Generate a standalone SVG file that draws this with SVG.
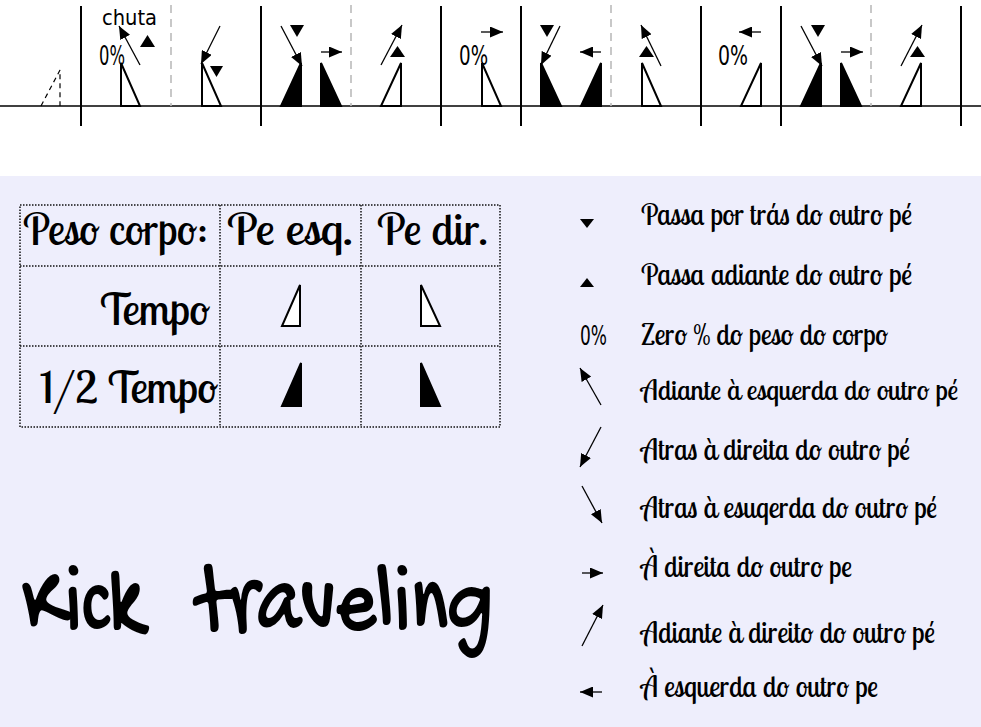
<svg xmlns="http://www.w3.org/2000/svg" width="981" height="727" viewBox="0 0 981 727">
<defs>
<style>
.bar{stroke:#000;stroke-width:2;fill:none}
.gap{stroke:#bbb;stroke-width:1.6;stroke-dasharray:8 6;fill:none}
.base{stroke:#000;stroke-width:1.6;fill:none}
.fw{fill:#fff;stroke:#000;stroke-width:2;stroke-linejoin:miter}
.fb{fill:#000;stroke:#000;stroke-width:2;stroke-linejoin:miter}
.tri{fill:#000;stroke:none}
.arr{stroke:#000;stroke-width:1.3;fill:none;marker-end:url(#ah)}
.dot{stroke:#111;stroke-width:1.5;stroke-dasharray:1.5 1.5;fill:none}
.ui{font-family:"Ubuntu Condensed","DejaVu Sans Condensed","DejaVu Sans",sans-serif;fill:#000}
.sc{font-family:"Lobster Two","Lobster","Liberation Serif",serif;fill:#000}
.hand{font-family:"Gochi Hand","Indie Flower","Kalam","DejaVu Sans",sans-serif;fill:#000}
</style>
<marker id="ah" markerUnits="userSpaceOnUse" markerWidth="13" markerHeight="11" viewBox="0 0 13 11" refX="13" refY="5.5" orient="auto">
<path d="M0,0 L13,5.5 L0,11 z" fill="#000"/>
</marker>
</defs>
<rect x="0" y="0" width="981" height="727" fill="#fff"/>
<rect x="0" y="176" width="981" height="551" fill="#eeeefc"/>

<g id="timeline">
<line class="base" x1="0" y1="106" x2="981" y2="106"/>
<g id="bars">
<line class="bar" x1="81" y1="6" x2="81" y2="126"/>
<line class="bar" x1="261" y1="6" x2="261" y2="126"/>
<line class="bar" x1="441" y1="6" x2="441" y2="126"/>
<line class="bar" x1="521" y1="6" x2="521" y2="126"/>
<line class="bar" x1="701" y1="6" x2="701" y2="126"/>
<line class="bar" x1="781" y1="6" x2="781" y2="126"/>
<line class="bar" x1="961" y1="6" x2="961" y2="126"/>
<line class="gap" x1="171" y1="5" x2="171" y2="106"/>
<line class="gap" x1="351" y1="5" x2="351" y2="106"/>
<line class="gap" x1="611" y1="5" x2="611" y2="106"/>
<line class="gap" x1="871" y1="5" x2="871" y2="106"/>
</g>
</g>

<g id="step0">
<polyline points="41,106 60,70 60,106" fill="none" stroke="#000" stroke-width="1.2" stroke-dasharray="5 4"/>
</g>
<g id="step1">
<text class="ui" x="102" y="25" font-size="21" textLength="55" lengthAdjust="spacingAndGlyphs">chuta</text>
<text class="ui" x="99" y="65" font-size="26" textLength="26" lengthAdjust="spacingAndGlyphs">0%</text>
<polygon class="fw" points="121,63 121,106 140,106"/>
<polygon class="tri" points="140,47 155,47 147.5,35"/>
</g>
<g id="step2">
<polygon class="fw" points="202,63 202,106 221,106"/>
<polygon class="tri" points="210,66 223,66 216.5,77"/>
</g>
<g id="step3">
<polygon class="fb" points="281,106 301,106 301,63"/>
<polygon class="fb" points="321,63 321,106 341,106"/>
<polygon class="tri" points="290,25 304,25 297,37"/>
</g>
<g id="step4">
<polygon class="fw" points="381,106 401,106 401,63"/>
<polygon class="tri" points="390,57 405,57 397.5,46"/>
</g>
<g id="step5">
<text class="ui" x="459" y="65" font-size="26" textLength="29" lengthAdjust="spacingAndGlyphs">0%</text>
<polygon class="fw" points="482,63 482,106 501,106"/>
</g>
<g id="step6">
<polygon class="fb" points="541,63 541,106 561,106"/>
<polygon class="fb" points="581,106 601,106 601,63"/>
<polygon class="tri" points="540,25 554,25 547,37"/>
</g>
<g id="step7">
<polygon class="fw" points="642,63 642,106 661,106"/>
<polygon class="tri" points="639,57 654,57 646.5,46"/>
</g>
<g id="step8">
<text class="ui" x="718" y="65" font-size="26" textLength="30" lengthAdjust="spacingAndGlyphs">0%</text>
<polygon class="fw" points="741,106 761,106 761,63"/>
</g>
<g id="step9">
<polygon class="fb" points="801,106 821,106 821,63"/>
<polygon class="fb" points="841,63 841,106 861,106"/>
<polygon class="tri" points="811,25 825,25 818,37"/>
</g>
<g id="step10">
<polygon class="fw" points="901,106 921,106 921,63"/>
<polygon class="tri" points="910,57 925,57 917.5,46"/>
</g>

<g id="connectors">
<line class="arr" x1="140" y1="65" x2="119" y2="26"/>
<line class="arr" x1="220" y1="26" x2="201" y2="64"/>
<line class="arr" x1="281" y1="26" x2="302" y2="66"/>
<line class="arr" x1="321" y1="52" x2="342" y2="52"/>
<line class="arr" x1="381" y1="65" x2="402" y2="25"/>
<line class="arr" x1="481" y1="32" x2="503" y2="32"/>
<line class="arr" x1="560" y1="26" x2="541" y2="65"/>
<line class="arr" x1="601" y1="52" x2="580" y2="52"/>
<line class="arr" x1="661" y1="66" x2="641" y2="25"/>
<line class="arr" x1="761" y1="32" x2="739" y2="32"/>
<line class="arr" x1="801" y1="26" x2="822" y2="66"/>
<line class="arr" x1="841" y1="52" x2="863" y2="52"/>
<line class="arr" x1="901" y1="66" x2="922" y2="25"/>
<line class="arr" x1="601" y1="405" x2="580" y2="368"/>
<line class="arr" x1="601" y1="427" x2="580" y2="467"/>
<line class="arr" x1="582" y1="486" x2="602" y2="523"/>
<line class="arr" x1="582" y1="573" x2="603" y2="573"/>
<line class="arr" x1="582" y1="646" x2="603" y2="605"/>
<line class="arr" x1="602" y1="692" x2="580" y2="692"/>
</g>

<g id="table">
<rect class="dot" x="20" y="205" width="480" height="222"/>
<line class="dot" x1="220" y1="205" x2="220" y2="427"/>
<line class="dot" x1="361" y1="205" x2="361" y2="427"/>
<line class="dot" x1="20" y1="266" x2="500" y2="266"/>
<line class="dot" x1="20" y1="346" x2="500" y2="346"/>
<text class="sc" x="23" y="245" font-size="44" textLength="185" lengthAdjust="spacingAndGlyphs">Peso corpo:</text>
<text class="sc" x="227" y="245" font-size="44" textLength="126" lengthAdjust="spacingAndGlyphs">Pe esq.</text>
<text class="sc" x="377" y="245" font-size="44" textLength="111" lengthAdjust="spacingAndGlyphs">Pe dir.</text>
<text class="sc" x="100" y="325" font-size="44" textLength="110" lengthAdjust="spacingAndGlyphs">Tempo</text>
<text class="sc" x="40" y="403" font-size="44" textLength="178" lengthAdjust="spacingAndGlyphs">1/2 Tempo</text>
<polygon class="fw" points="282,326 300,326 300,285"/>
<polygon class="fw" points="421,285 421,326 440,326"/>
<polygon class="fb" points="282,406 301,406 301,363"/>
<polygon class="fb" points="421,363 421,406 440,406"/>
</g>

<g id="legend">
<g id="lg1"><polygon class="tri" points="580,219 594,219 587,228"/><text class="sc" x="641" y="225" font-size="30" textLength="271" lengthAdjust="spacingAndGlyphs">Passa por trás do outro pé</text></g>
<g id="lg2"><polygon class="tri" points="580,287 594,287 587,278"/><text class="sc" x="641" y="285" font-size="30" textLength="271" lengthAdjust="spacingAndGlyphs">Passa adiante do outro pé</text></g>
<g id="lg3"><text class="ui" x="580" y="345" font-size="26" textLength="27" lengthAdjust="spacingAndGlyphs">0%</text><text class="sc" x="641" y="345" font-size="30" textLength="247" lengthAdjust="spacingAndGlyphs">Zero % do peso do corpo</text></g>
<g id="lg4"><text class="sc" x="641" y="400" font-size="28" textLength="317" lengthAdjust="spacingAndGlyphs">Adiante à esquerda do outro pé</text></g>
<g id="lg5"><text class="sc" x="641" y="460" font-size="30" textLength="269" lengthAdjust="spacingAndGlyphs">Atras à direita do outro pé</text></g>
<g id="lg6"><text class="sc" x="641" y="518" font-size="30" textLength="296" lengthAdjust="spacingAndGlyphs">Atras à esuqerda do outro pé</text></g>
<g id="lg7"><text class="sc" x="641" y="577" font-size="30" textLength="211" lengthAdjust="spacingAndGlyphs">À direita do outro pe</text></g>
<g id="lg8"><text class="sc" x="641" y="643" font-size="30" textLength="294" lengthAdjust="spacingAndGlyphs">Adiante à direito do outro pé</text></g>
<g id="lg9"><text class="sc" x="641" y="697" font-size="30" textLength="237" lengthAdjust="spacingAndGlyphs">À esquerda do outro pe</text></g>
</g>

<g id="title">
<text class="hand" y="627" font-size="104"><tspan x="22" textLength="121" lengthAdjust="spacingAndGlyphs">Kick</tspan><tspan x="197" textLength="296" lengthAdjust="spacingAndGlyphs">traveling</tspan></text>
</g>
</svg>
